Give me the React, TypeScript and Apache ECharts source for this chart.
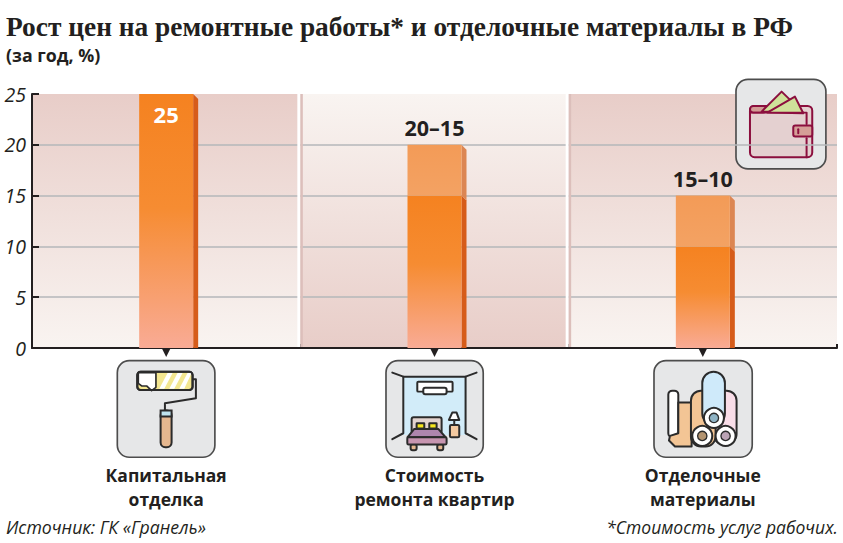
import React, { useEffect, useRef } from "react";
import * as echarts from "echarts";

const categories = ["Капитальная\nотделка", "Стоимость\nремонта квартир", "Отделочные\nматериалы"];
const baseValues = [25, 15, 10];
const rangeValues = [0, 5, 5];
const valueLabels = ["25", "20–15", "15–10"];
const yTicks = [0, 5, 10, 15, 20, 25];
const titleText = "Рост цен на ремонтные работы* и отделочные материалы в РФ";
const subtitleText = "(за год, %)";
const sourceText = "Источник: ГК «Гранель»";
const noteText = "*Стоимость услуг рабочих.";

const INK = "#231f20";
const DARK_PANEL = "#e8cdc8";
const LIGHT_PANEL = "#f9f4f1";
const SANS = "'Open Sans', 'Noto Sans', sans-serif";
const BAR_W = 54;
const SIDE_W = 5;

const vGrad = (stops: [number, string][]) =>
  new echarts.graphic.LinearGradient(0, 0, 0, 1, stops.map(([offset, color]) => ({ offset, color })));

const S = "#2b2b2b";
const rr = (x0: number, y0: number, x1: number, y1: number, r: number, fill: string, stroke = S, lw = 6) => ({
  type: "rect",
  shape: { x: x0, y: y0, width: x1 - x0, height: y1 - y0, r },
  style: { fill, stroke, lineWidth: lw },
});
const poly = (pts: number[][], fill: string, stroke = S, lw = 6) => ({
  type: "polygon",
  shape: { points: pts },
  style: { fill, stroke, lineWidth: lw, lineJoin: "round" },
});
const pl = (pts: number[][], stroke = S, lw = 6) => ({
  type: "polyline",
  shape: { points: pts },
  style: { fill: "none", stroke, lineWidth: lw, lineJoin: "round", lineCap: "round" },
});
const circ = (cx: number, cy: number, r: number, fill: string, stroke = S, lw = 6) => ({
  type: "circle",
  shape: { cx, cy, r },
  style: { fill, stroke, lineWidth: lw },
});
const icon = (x: number, y: number, children: any[]) => ({
  type: "group",
  x,
  y,
  scaleX: 1 / 3,
  scaleY: 1 / 3,
  z: 10,
  children,
});
const CARD = "#e6e7e8";
const EDGE = "#4d4d4d";

const roller = icon(100, 350, [
  rr(52, 32, 345, 322, 36, CARD, EDGE, 5),
  pl([[278, 88], [288, 88], [288, 145], [195, 160], [195, 182]]),
  rr(112, 65, 278, 120, 10, "#f3e690"),
  poly([[115, 68], [168, 68], [168, 112], [155, 122], [140, 108], [125, 108], [115, 100]], "#ffffff", S, 5),
  poly([[178, 116], [203, 69], [218, 69], [193, 116]], "#ffffff", "none", 0),
  poly([[208, 116], [233, 69], [248, 69], [223, 116]], "#ffffff", "none", 0),
  poly([[238, 116], [263, 69], [275, 69], [253, 116]], "#ffffff", "none", 0),
  rr(112, 65, 278, 120, 10, "none"),
  rr(182, 182, 215, 292, 14, "#e5b78f"),
  rr(182, 182, 215, 200, 0, "#bfe3ee"),
]);

const bedroom = icon(375, 350, [
  rr(33, 32, 325, 322, 36, CARD, EDGE, 5),
  poly([[85, 80], [272, 80], [272, 255], [85, 255]], "#d2ecf9", "none", 0),
  pl([[52, 68], [85, 80], [272, 80], [305, 68]]),
  pl([[85, 80], [85, 250], [52, 268]]),
  pl([[272, 80], [272, 250], [305, 268]]),
  rr(127, 95, 233, 125, 3, "#ffffff"),
  rr(145, 113, 215, 133, 6, "#ffffff"),
  rr(110, 202, 200, 250, 6, "#e3d3cf"),
  rr(125, 220, 148, 236, 1, "#f6e61e"),
  rr(163, 220, 185, 236, 1, "#f6e61e"),
  rr(107, 283, 125, 301, 6, "#e5b78f"),
  rr(187, 283, 205, 301, 6, "#e5b78f"),
  poly([[118, 237], [190, 237], [212, 262], [98, 262]], "#ae86ad"),
  rr(97, 262, 215, 284, 4, "#c795b0"),
  rr(225, 225, 253, 262, 4, "#f3c9a0"),
  pl([[238, 210], [238, 225]]),
  poly([[222, 210], [253, 210], [245, 188], [232, 188]], "#ffffff"),
]);

const rolls = icon(645, 350, [
  rr(27, 32, 322, 322, 36, CARD, EDGE, 5),
  rr(205, 122, 275, 282, 30, "#f9dde8"),
  rr(70, 122, 100, 262, 12, "#ffffff"),
  poly([[100, 158], [140, 158], [140, 290], [90, 290], [72, 272], [75, 258], [100, 250]], "#f3c595"),
  rr(138, 122, 212, 290, 30, "#f3c595"),
  rr(172, 65, 240, 225, 34, "#cfeafa"),
  circ(207, 204, 30, "#ffffff"),
  circ(207, 204, 14, "#8fb3c4", S, 4),
  circ(172, 258, 30, "#ffffff"),
  circ(172, 258, 14, "#b39470", S, 4),
  circ(242, 258, 30, "#ffffff"),
  circ(242, 258, 14, "#bba3b5", S, 4),
]);

const W = "#8b0f3e";
const wallet = icon(725, 70, [
  rr(33, 28, 303, 297, 36, CARD, EDGE, 5),
  rr(75, 108, 262, 262, 14, "#e4d0d0", W, 6),
  rr(75, 108, 125, 128, 10, "#d29c95", W, 6),
  poly([[110, 125], [170, 65], [232, 125]], "#cfe29a", W, 6),
  poly([[127, 128], [210, 80], [235, 130]], "#cfe29a", W, 6),
  pl([[75, 128], [245, 128], [245, 162]], W, 6),
  pl([[245, 205], [245, 262]], W, 6),
  rr(205, 167, 262, 200, 6, "#d59f97", W, 6),
  pl([[220, 178], [220, 190]], W, 6),
]);

export default function App() {
  const ref = useRef<HTMLDivElement>(null);

  useEffect(() => {
    document.body.style.margin = "0";
    const chart = echarts.init(ref.current!, undefined, { renderer: "svg" });
    const n = categories.length;

    const bandEdges = (api: any, i: number) => {
      const size = api.size([1, 0])[0];
      const cx = api.coord([i, 0])[0];
      return { x0: cx - size / 2, x1: cx + size / 2, cx };
    };

    chart.setOption({
      animation: false,
      backgroundColor: "#ffffff",
      title: [
        {
          text: titleText,
          left: 6,
          top: 13,
          padding: 0,
          textStyle: { fontFamily: "'Liberation Serif', serif", fontWeight: "bold", fontSize: 27.4, color: INK },
        },
        {
          text: subtitleText,
          left: 6,
          top: 46,
          padding: 0,
          textStyle: { fontFamily: SANS, fontWeight: "bold", fontSize: 17.8, color: INK },
        },
      ],
      grid: { left: 32, right: 6, top: 94, bottom: 195, containLabel: false },
      xAxis: {
        type: "category",
        data: categories,
        axisLine: { lineStyle: { color: INK, width: 2 } },
        axisTick: { show: true, inside: true, length: 4, lineStyle: { color: INK, width: 2 } },
        splitLine: { show: false },
        axisLabel: {
          margin: 115,
          interval: 0,
          color: INK,
          fontFamily: SANS,
          fontWeight: "bold",
          fontSize: 17.5,
          lineHeight: 24,
        },
      },
      yAxis: {
        type: "value",
        min: 0,
        max: 25,
        interval: 5,
        axisLine: { show: true, lineStyle: { color: INK, width: 2 } },
        axisTick: { show: true, inside: true, length: 7, lineStyle: { color: INK, width: 2 } },
        splitLine: { show: true, showMinLine: false, showMaxLine: false, lineStyle: { color: "#b5b7ba", width: 1.5 } },
        axisLabel: {
          margin: 6,
          color: INK,
          fontFamily: SANS,
          fontStyle: "italic",
          fontSize: 19.5,
          formatter: (v: number) => (yTicks.includes(v) ? String(v) : ""),
        },
      },
      series: [
        {
          type: "custom",
          name: "panels",
          z: -1,
          silent: true,
          data: categories.map((_, i) => [i]),
          renderItem: (_p: any, api: any) => {
            const i = api.value(0);
            const { x0, x1 } = bandEdges(api, i);
            const yTop = api.coord([i, 25])[1];
            const yBot = api.coord([i, 0])[1];
            const alt = i % 2 === 1;
            return {
              type: "rect",
              shape: { x: x0, y: yTop, width: x1 - x0, height: yBot - yTop },
              style: {
                fill: vGrad(alt ? [[0, LIGHT_PANEL], [1, DARK_PANEL]] : [[0, DARK_PANEL], [1, LIGHT_PANEL]]),
              },
            };
          },
        },
        {
          type: "custom",
          name: "separators",
          z: 1,
          silent: true,
          data: categories.map((_, i) => [i]),
          renderItem: (_p: any, api: any) => {
            const i = api.value(0);
            const { x0, x1, cx } = bandEdges(api, i);
            const yTop = api.coord([i, 25])[1];
            const yBot = api.coord([i, 0])[1];
            const children: any[] = [
              {
                type: "polygon",
                shape: { points: [[cx - 4, yBot + 1], [cx + 4, yBot + 1], [cx, yBot + 9]] },
                style: { fill: INK },
              },
            ];
            if (i < n - 1) {
              children.push({
                type: "rect",
                shape: { x: x1 - 3, y: yTop, width: 3, height: yBot - yTop - 1 },
                style: { fill: "#ffffff" },
              });
            }
            if (i > 0) {
              children.push({
                type: "rect",
                shape: { x: x0, y: yTop, width: 2.5, height: yBot - yTop - 1 },
                style: { fill: "#dcbfbb" },
              });
            }
            return { type: "group", children };
          },
        },
        {
          type: "bar",
          name: "base",
          stack: "total",
          z: 3,
          barWidth: BAR_W,
          itemStyle: {
            color: vGrad([[0, "#f58220"], [0.45, "#f68c32"], [1, "#f9ab95"]]),
          },
          data: baseValues.map((value, i) => ({
            value,
            label:
              i === 0
                ? {
                    show: true,
                    position: "insideTop",
                    distance: 9,
                    formatter: valueLabels[i],
                    color: "#ffffff",
                    fontFamily: SANS,
                    fontWeight: "bold",
                    fontSize: 22,
                  }
                : { show: false },
          })),
        },
        {
          type: "bar",
          name: "range",
          stack: "total",
          z: 3,
          barWidth: BAR_W,
          itemStyle: { color: vGrad([[0, "#f39b57"], [1, "#f3a263"]]) },
          data: rangeValues.map((value, i) => ({
            value,
            label:
              value > 0
                ? {
                    show: true,
                    position: "top",
                    distance: 6,
                    formatter: valueLabels[i],
                    color: INK,
                    fontFamily: SANS,
                    fontWeight: "bold",
                    fontSize: 21.5,
                  }
                : { show: false },
          })),
        },
        {
          type: "custom",
          name: "sides",
          z: 3,
          silent: true,
          data: baseValues.flatMap((b, i) => [
            [i, 0, b, 0],
            ...(rangeValues[i] > 0 ? [[i, b, b + rangeValues[i], 1]] : []),
          ]),
          renderItem: (_p: any, api: any) => {
            const i = api.value(0);
            const [cx, yLow] = api.coord([i, api.value(1)]);
            const yHigh = api.coord([i, api.value(2)])[1];
            const x = cx + BAR_W / 2;
            return {
              type: "polygon",
              shape: {
                points: [
                  [x, yHigh],
                  [x + SIDE_W, yHigh + SIDE_W],
                  [x + SIDE_W, yLow + (api.value(3) ? SIDE_W : 0)],
                  [x, yLow],
                ],
              },
              style: { fill: api.value(3) ? "#dc8653" : "#d65c1a" },
            };
          },
        },
      ],
      graphic: [
        roller,
        bedroom,
        rolls,
        wallet,
        {
          type: "text",
          x: 6,
          y: 518,
          style: { text: sourceText, fontFamily: SANS, fontStyle: "italic", fontSize: 17.7, fill: INK },
        },
        {
          type: "text",
          x: 838,
          y: 518,
          style: { text: noteText, textAlign: "right", fontFamily: SANS, fontStyle: "italic", fontSize: 17.5, fill: INK },
        },
      ],
    });
    return () => chart.dispose();
  }, []);

  return <div ref={ref} style={{ position: "absolute", left: 0, top: 0, width: 843, height: 543 }} />;
}
